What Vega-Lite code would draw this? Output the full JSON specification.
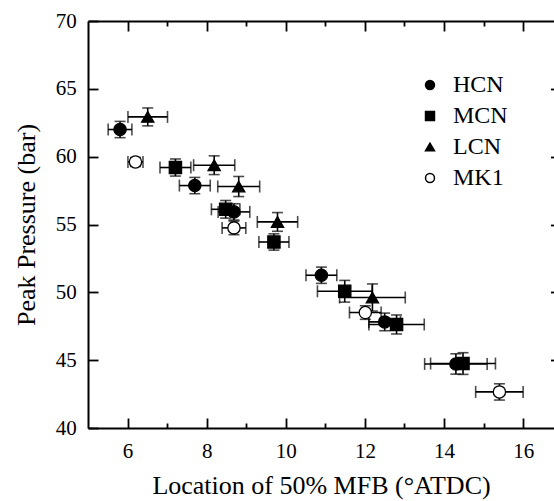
{
  "$schema": "https://vega.github.io/schema/vega-lite/v6.json",
  "autosize": "none",
  "padding": {"left": 88, "top": 21, "right": 0, "bottom": 73},
  "width": 466,
  "height": 407,
  "background": "white",
  "config": {
    "font": "Liberation Serif",
    "view": {"stroke": null},
    "axis": {
      "grid": false,
      "domainColor": "black",
      "domainWidth": 2,
      "tickColor": "black",
      "tickWidth": 1.8,
      "labelFont": "Liberation Serif",
      "labelFontSize": 21,
      "labelColor": "black",
      "titleFont": "Liberation Serif",
      "titleFontSize": 26,
      "titleFontWeight": "normal",
      "titleColor": "black",
      "labelFlush": false,
      "labelOverlap": false
    }
  },
  "data": {
    "values": [
      {"series": "HCN", "x": 5.81, "y": 62.0, "xlo": 5.51, "xhi": 6.11, "ylo": 61.4, "yhi": 62.6},
      {"series": "HCN", "x": 7.70, "y": 57.87, "xlo": 7.31, "xhi": 8.09, "ylo": 57.27, "yhi": 58.47},
      {"series": "HCN", "x": 8.69, "y": 55.93, "xlo": 8.29, "xhi": 9.09, "ylo": 55.33, "yhi": 56.53},
      {"series": "HCN", "x": 10.90, "y": 51.26, "xlo": 10.51, "xhi": 11.29, "ylo": 50.66, "yhi": 51.86},
      {"series": "HCN", "x": 12.50, "y": 47.82, "xlo": 12.10, "xhi": 12.90, "ylo": 47.17, "yhi": 48.47},
      {"series": "HCN", "x": 14.30, "y": 44.72, "xlo": 13.51, "xhi": 15.09, "ylo": 43.97, "yhi": 45.47},
      {"series": "MCN", "x": 7.21, "y": 59.2, "xlo": 6.82, "xhi": 7.60, "ylo": 58.57, "yhi": 59.83},
      {"series": "MCN", "x": 8.48, "y": 56.12, "xlo": 8.12, "xhi": 8.84, "ylo": 55.47, "yhi": 56.77},
      {"series": "MCN", "x": 9.70, "y": 53.71, "xlo": 9.32, "xhi": 10.08, "ylo": 53.11, "yhi": 54.31},
      {"series": "MCN", "x": 11.49, "y": 50.08, "xlo": 10.80, "xhi": 12.18, "ylo": 49.28, "yhi": 50.88},
      {"series": "MCN", "x": 12.80, "y": 47.63, "xlo": 12.10, "xhi": 13.50, "ylo": 46.93, "yhi": 48.33},
      {"series": "MCN", "x": 14.48, "y": 44.75, "xlo": 13.66, "xhi": 15.30, "ylo": 43.95, "yhi": 45.55},
      {"series": "LCN", "x": 6.51, "y": 62.93, "xlo": 6.01, "xhi": 7.01, "ylo": 62.27, "yhi": 63.59},
      {"series": "LCN", "x": 8.19, "y": 59.37, "xlo": 7.67, "xhi": 8.71, "ylo": 58.68, "yhi": 60.06},
      {"series": "LCN", "x": 8.81, "y": 57.8, "xlo": 8.28, "xhi": 9.34, "ylo": 57.06, "yhi": 58.54},
      {"series": "LCN", "x": 9.79, "y": 55.19, "xlo": 9.28, "xhi": 10.30, "ylo": 54.50, "yhi": 55.88},
      {"series": "LCN", "x": 12.19, "y": 49.62, "xlo": 11.36, "xhi": 13.02, "ylo": 48.62, "yhi": 50.62},
      {"series": "MK1", "x": 6.20, "y": 59.61, "xlo": 6.01, "xhi": 6.39, "ylo": 59.28, "yhi": 59.94},
      {"series": "MK1", "x": 8.69, "y": 54.75, "xlo": 8.39, "xhi": 8.99, "ylo": 54.25, "yhi": 55.25},
      {"series": "MK1", "x": 12.01, "y": 48.51, "xlo": 11.61, "xhi": 12.41, "ylo": 48.01, "yhi": 49.01},
      {"series": "MK1", "x": 15.40, "y": 42.66, "xlo": 14.80, "xhi": 16.00, "ylo": 42.06, "yhi": 43.26}
    ]
  },
  "resolve": {"axis": {"x": "independent", "y": "independent"}},
  "layer": [
    {
      "mark": {"type": "rule", "color": "black", "strokeWidth": 1.6},
      "encoding": {
        "x": {"field": "xlo", "type": "quantitative", "scale": {"domain": [5, 16.78], "nice": false, "zero": false},
              "axis": {"orient": "bottom", "values": [7, 9, 11, 13, 15], "tickSize": -5, "labels": false, "domain": false, "title": null}},
        "x2": {"field": "xhi"},
        "y": {"field": "y", "type": "quantitative", "scale": {"domain": [40, 70], "nice": false, "zero": false},
              "axis": {"orient": "right", "values": [45, 50, 55, 60, 65], "tickSize": -10, "offset": 6.5, "labels": false, "domain": false, "title": null}}
      }
    },
    {
      "mark": {"type": "rule", "color": "black", "strokeWidth": 1.6},
      "encoding": {
        "x": {"field": "x", "type": "quantitative",
              "axis": {"orient": "top", "values": [6, 8, 10, 12, 14, 16], "tickSize": -10, "labels": false, "title": null}},
        "y": {"field": "ylo", "type": "quantitative", "axis": null},
        "y2": {"field": "yhi"}
      }
    },
    {
      "mark": {"type": "tick", "orient": "vertical", "size": 12, "thickness": 1.6, "color": "black"},
      "encoding": {
        "x": {"field": "xlo", "type": "quantitative",
              "axis": {"orient": "top", "values": [7, 9, 11, 13, 15], "tickSize": -5, "labels": false, "domain": false, "title": null}},
        "y": {"field": "y", "type": "quantitative", "axis": null}
      }
    },
    {
      "mark": {"type": "tick", "orient": "vertical", "size": 12, "thickness": 1.6, "color": "black"},
      "encoding": {
        "x": {"field": "xhi", "type": "quantitative", "axis": null},
        "y": {"field": "y", "type": "quantitative", "axis": null}
      }
    },
    {
      "mark": {"type": "tick", "orient": "horizontal", "size": 11, "thickness": 1.6, "color": "black"},
      "encoding": {
        "x": {"field": "x", "type": "quantitative", "axis": null},
        "y": {"field": "ylo", "type": "quantitative", "axis": null}
      }
    },
    {
      "mark": {"type": "tick", "orient": "horizontal", "size": 11, "thickness": 1.6, "color": "black"},
      "encoding": {
        "x": {"field": "x", "type": "quantitative", "axis": null},
        "y": {"field": "yhi", "type": "quantitative", "axis": null}
      }
    },
    {
      "mark": {"type": "point", "filled": true, "stroke": "black", "strokeWidth": 1.3, "opacity": 1, "size": 150},
      "encoding": {
        "x": {"field": "x", "type": "quantitative",
              "axis": {"orient": "bottom", "values": [6, 8, 10, 12, 14, 16], "tickSize": -10, "labelPadding": 22.6, "titlePadding": 11, "title": "Location of 50% MFB (°ATDC)"}},
        "y": {"field": "y", "type": "quantitative",
              "axis": {"orient": "left", "values": [40, 45, 50, 55, 60, 65, 70], "tickSize": -10, "labelPadding": 21.8, "titlePadding": 16, "title": "Peak Pressure (bar)"}},
        "shape": {"field": "series", "type": "nominal",
                  "scale": {"domain": ["HCN", "MCN", "LCN", "MK1"], "range": ["circle", "square", "triangle-up", "circle"]},
                  "legend": {"title": null, "orient": "none", "legendX": 330, "legendY": 52, "padding": 0,
                             "labelFont": "Liberation Serif", "labelFontSize": 24, "labelColor": "black",
                             "symbolSize": 80, "rowPadding": 7, "labelOffset": 11,
                             "encode": {"symbols": {"update": {"stroke": {"value": "black"}, "strokeWidth": {"value": 1.2}}}}}},
        "fill": {"field": "series", "type": "nominal",
                 "scale": {"domain": ["HCN", "MCN", "LCN", "MK1"], "range": ["black", "black", "black", "white"]},
                 "legend": {"title": null, "orient": "none", "legendX": 330, "legendY": 52, "padding": 0,
                            "labelFont": "Liberation Serif", "labelFontSize": 24, "labelColor": "black",
                            "symbolSize": 80, "rowPadding": 7, "labelOffset": 11,
                            "encode": {"symbols": {"update": {"stroke": {"value": "black"}, "strokeWidth": {"value": 1.2}}}}}}
      }
    }
  ]
}
